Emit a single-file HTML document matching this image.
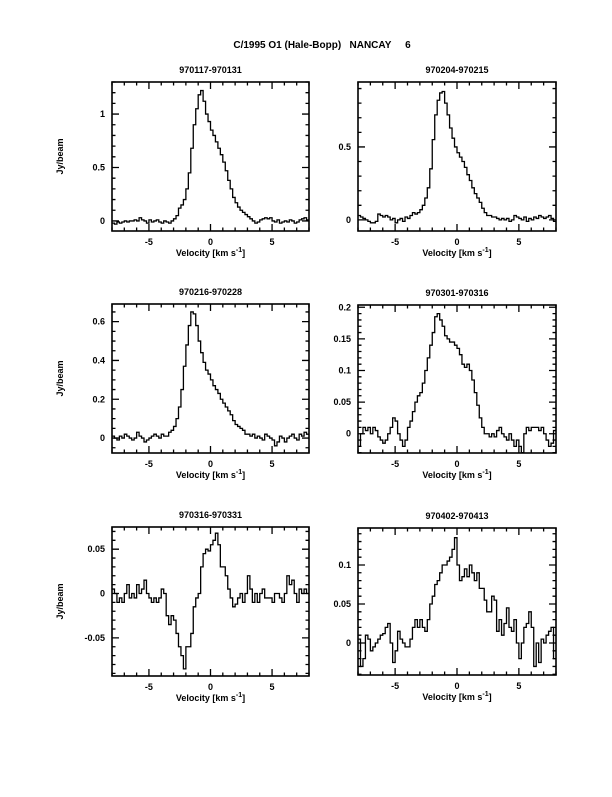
<!DOCTYPE html>
<html><head><meta charset="utf-8"><style>
html,body{margin:0;padding:0;background:#fff}
svg text{font-family:"Liberation Sans",sans-serif;font-weight:bold;fill:#000}
</style></head><body>
<svg id="fig" width="612" height="792" viewBox="0 0 612 792" xmlns="http://www.w3.org/2000/svg">
<text x="322" y="48" font-size="10" text-anchor="middle" xml:space="preserve">C/1995 O1 (Hale-Bopp)   NANCAY     6</text>
</svg>
<script>
const titles = ["970117-970131","970204-970215","970216-970228","970301-970316","970316-970331","970402-970413"];
const s1 = [-0.02,-0.03,-0.01,-0.02,-0.01,0,-0.01,0,0,0.01,0,0.03,0.01,0,-0.02,0.01,-0.01,0,0.01,-0.01,-0.02,0,-0.01,-0.02,0,
0.02,0.05,0.12,0.15,0.2,0.3,0.45,0.68,0.9,1.05,1.18,1.22,1.12,1.0,0.93,0.85,0.8,0.74,0.68,0.62,0.55,0.47,0.38,0.3,0.22,0.17,0.13,0.1,0.08,0.06,0.04,0.02,0,-0.02,-0.01,
0.01,0.02,0.03,0.02,0.03,0,-0.01,0.01,-0.02,-0.01,0,-0.01,0.01,0,-0.02,-0.01,0.01,0.02,0.03,0.01];
const s2 = [0.03,0.02,0.01,0,-0.01,-0.02,-0.02,-0.01,0.04,0.03,0.02,0.03,0.02,0,0.01,-0.02,0,0.01,-0.01,0.02,0.01,0.03,0.05,0.04,0.05,
0.07,0.1,0.15,0.22,0.35,0.55,0.72,0.82,0.87,0.88,0.8,0.72,0.63,0.56,0.5,0.46,0.43,0.4,0.36,0.31,0.27,0.22,0.18,0.15,0.12,0.08,0.05,0.03,0.03,0.02,0.02,0.01,0,0.01,0,
0.01,-0.01,0,0.03,0.02,0.01,0,0.02,-0.01,0.01,0,0.02,0.01,0.03,0.02,0.01,0.02,0.03,0.01,-0.01];
const s3 = [0.01,0,-0.01,0.01,0,0.02,0.01,0,-0.01,0,0.03,0.01,0,-0.02,-0.01,0,0.01,0.02,0.01,0,0.02,0.01,0.01,0.03,0.04,
0.06,0.1,0.16,0.25,0.37,0.48,0.58,0.65,0.64,0.58,0.5,0.44,0.39,0.35,0.33,0.3,0.27,0.25,0.23,0.2,0.18,0.16,0.14,0.12,0.09,0.07,0.06,0.05,0.04,0.02,0.02,0.01,0.02,0,0.01,
0,-0.01,0.02,0.01,0,-0.01,-0.04,-0.02,0.01,0,-0.02,0,0.01,0.02,0,-0.01,0.02,0.01,0.03,0.02];
const s4 = [-0.02,0,0.01,0.005,0.01,0,0.01,0.005,-0.005,-0.01,-0.015,-0.01,0,0.01,0.025,0.02,0,-0.01,-0.02,-0.01,0.01,0.02,0.035,0.05,0.06,
0.065,0.08,0.1,0.12,0.14,0.16,0.185,0.19,0.18,0.17,0.155,0.15,0.145,0.145,0.14,0.135,0.125,0.11,0.105,0.11,0.1,0.085,0.065,0.045,0.025,0.01,0,0,-0.005,0,-0.005,0.005,0.01,0,-0.005,
-0.01,0,-0.01,-0.02,-0.01,-0.02,-0.03,0,0.01,0.005,0.01,0.01,0.01,0.005,0.01,0,-0.01,-0.02,-0.015,0.005];
const s5 = [0.005,0,-0.01,-0.005,-0.01,0,0.01,-0.005,0,-0.005,0.01,0,0.005,0.015,0,-0.005,-0.01,-0.005,-0.01,-0.005,0.005,0,-0.025,-0.035,-0.025,
-0.03,-0.045,-0.06,-0.07,-0.085,-0.06,-0.06,-0.045,-0.015,-0.005,0,0.03,0.045,0.05,0.048,0.055,0.06,0.068,0.055,0.03,0.03,0.02,0.005,-0.005,-0.015,-0.012,-0.005,0,-0.01,0,0.02,0.005,-0.01,0,-0.01,
0,0.005,-0.005,-0.005,-0.005,-0.01,0,0,-0.005,-0.01,0,0.02,0.01,0.015,0,-0.01,0.005,0,0.005,0];
const s6 = [0.005,-0.03,-0.02,0.01,0.005,-0.01,-0.005,0,0.005,0.01,0.012,0.02,0.025,0,-0.025,-0.01,0.015,0.005,0,-0.005,-0.005,0.005,0.02,0.03,0.02,
0.03,0.02,0.015,0.03,0.05,0.06,0.075,0.08,0.09,0.1,0.1,0.105,0.11,0.12,0.135,0.1,0.08,0.085,0.095,0.085,0.1,0.09,0.08,0.09,0.07,0.07,0.055,0.04,0.04,0.06,0.055,0.015,0.03,0.01,0.025,
0.045,0.02,0.015,0.03,0,-0.02,0,0.02,0.025,0.04,0.02,-0.03,0,-0.025,0.005,0,0.01,0.015,0.02,-0.02];
const series = [s1,s2,s3,s4,s5,s6];
const yRanges = [[-0.094,1.30],[-0.076,0.945],[-0.077,0.691],[-0.0305,0.2036],[-0.093,0.075],[-0.041,0.1474]];
const yMajorTicks = [[0,0.5,1],[0,0.5],[0,0.2,0.4,0.6],[0,0.05,0.1,0.15,0.2],[-0.05,0,0.05],[0,0.05,0.1]];
const yMajorLabels = [["0","0.5","1"],["0","0.5"],["0","0.2","0.4","0.6"],["0","0.05","0.1","0.15","0.2"],["-0.05","0","0.05"],["0","0.05","0.1"]];
const yMinorStep = [0.1,0.1,0.05,0.01,0.01,0.01];
const xTicks = [-5,0,5];
const xTickLabels = ["-5","0","5"];
const xMin=-8, xMax=8, binStart=-8, binWidth=0.2;

const boxes = [[112,82,309,231],[358,82,556,231],[112,304,309,453],[358,305,556,453],[112,527,309,676],[358,528,556,675]];
const NS="http://www.w3.org/2000/svg";
const svg=document.getElementById('fig');
function mk(tag,attrs,parent){const e=document.createElementNS(NS,tag);for(const k in attrs)e.setAttribute(k,attrs[k]);(parent||svg).appendChild(e);return e;}

series.forEach((data,p)=>{
  const [L,T,R,B]=boxes[p];
  const [y0,y1]=yRanges[p];
  const sx=v=>L+(v-xMin)/(xMax-xMin)*(R-L);
  const sy=v=>B-(v-y0)/(y1-y0)*(B-T);
  const g=mk('g',{});
  
  
  const clip=mk('clipPath',{id:'c'+p},g);
  mk('rect',{x:L,y:T,width:R-L,height:B-T},clip);
  // spectrum
  let d='';
  data.forEach((v,i)=>{const a=sx(binStart+i*binWidth),b=sx(binStart+(i+1)*binWidth),y=sy(v);
    d+=(i===0?'M':'L')+a.toFixed(2)+','+y.toFixed(2)+'L'+b.toFixed(2)+','+y.toFixed(2);});
  const line=mk('path',{d:d,fill:'none',stroke:'#000','stroke-width':1.3,'clip-path':'url(#c'+p+')'},g);
  
  
  // frame
  const fr=mk('rect',{x:L,y:T,width:R-L,height:B-T,fill:'none',stroke:'#000','stroke-width':1.6},g);
  
  
  let td='';
  for(let v=xMin;v<=xMax;v++){const x=sx(v),len=(v%5===0)?7:3.5;td+=`M${x},${B}v${-len}M${x},${T}v${len}`;}
  const st=yMinorStep[p];
  for(let k=Math.ceil(y0/st);k*st<=y1;k++){const v=k*st,y=sy(v);
    const maj=yMajorTicks[p].some(m=>Math.abs(m-v)<st/10);const len=maj?7:3.5;
    td+=`M${L},${y}h${len}M${R},${y}h${-len}`;}
  const tk=mk('path',{d:td,stroke:'#000','stroke-width':1.3,fill:'none'},g);
  
  
  xTicks.forEach((v,i)=>{const t=mk('text',{x:sx(v),y:B+14,'font-size':9,'text-anchor':'middle'},g);t.textContent=xTickLabels[i];
    
    });
  yMajorTicks[p].forEach((v,i)=>{const t=mk('text',{x:L-7,y:sy(v)+3,'font-size':9,'text-anchor':'end'},g);t.textContent=yMajorLabels[p][i];
    
    });
  const ti=mk('text',{x:(L+R)/2,y:T-9,'font-size':9,'text-anchor':'middle'},g);ti.textContent=titles[p];
  
  
  const xl=mk('text',{x:(L+R)/2,y:B+25,'font-size':9,'text-anchor':'middle'},g);
  xl.innerHTML='Velocity [km s<tspan dy="-4" font-size="7">-1</tspan><tspan dy="4">]</tspan>';
  
  
  if(p%2===0){const cy=(T+B)/2;const yl=mk('text',{x:63,y:cy,'font-size':9,'text-anchor':'middle',transform:`rotate(-90 63 ${cy})`},g);yl.textContent='Jy/beam';
    
    }
});
</script>
</body></html>
